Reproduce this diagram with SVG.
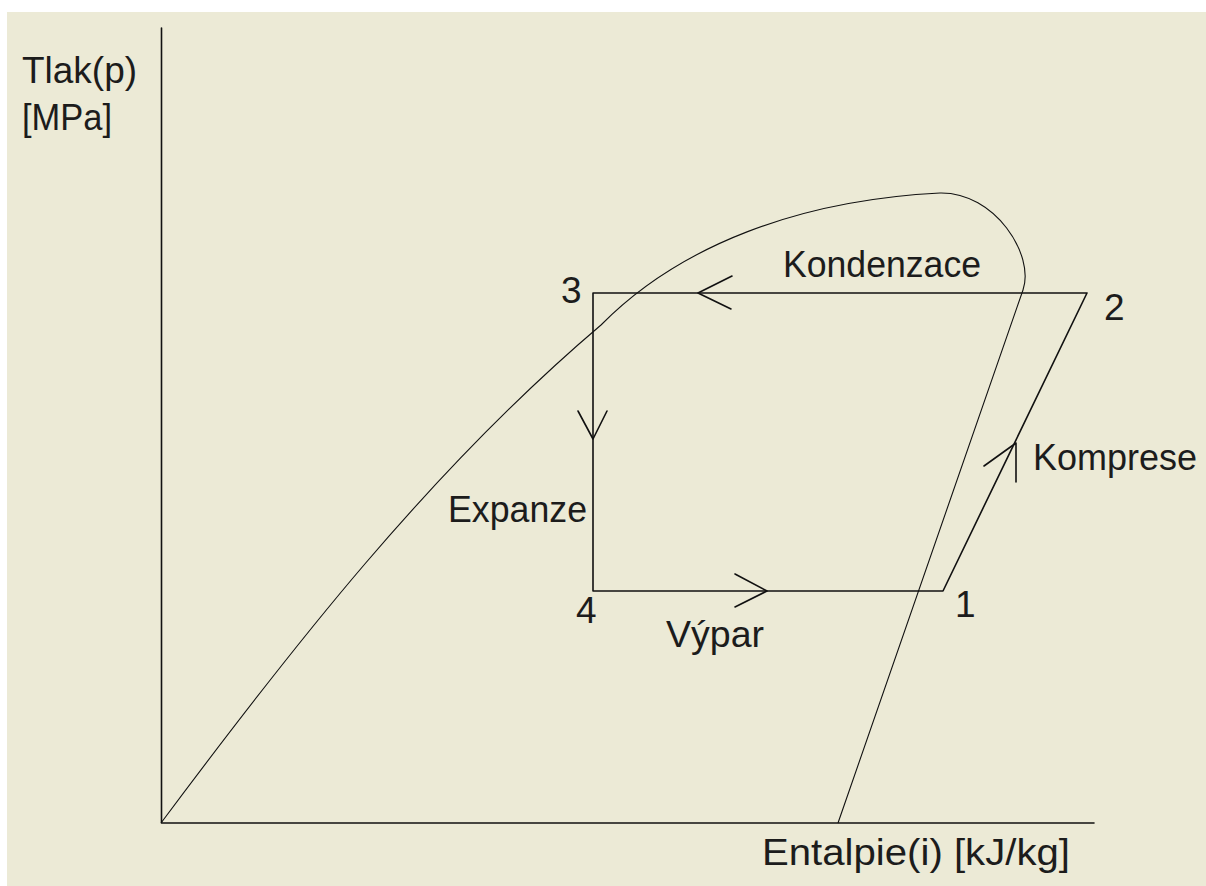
<svg xmlns="http://www.w3.org/2000/svg" width="1206" height="886" viewBox="0 0 1206 886">
  <style>
    .ln { fill: none; stroke: #111; stroke-width: 1.6; stroke-linecap: round; stroke-linejoin: round; }
    .thin { fill: none; stroke: #111; stroke-width: 1.1; }
    .t { font-family: "Liberation Sans", "DejaVu Sans", sans-serif; font-size: 37px; fill: #1c1c1c; }
  </style>
  <rect x="0" y="0" width="1206" height="886" fill="#ffffff"/>
  <rect x="7" y="12" width="1199" height="874" fill="#ECEAD6"/>

  <g id="axes">
    <path class="ln" d="M161.5,28 V823 H1094"/>
    <text class="t" x="22" y="83" textLength="115" lengthAdjust="spacingAndGlyphs">Tlak(p)</text>
    <text class="t" x="22" y="130" textLength="90" lengthAdjust="spacingAndGlyphs">[MPa]</text>
    <text class="t" x="762" y="865" textLength="308" lengthAdjust="spacingAndGlyphs">Entalpie(i) [kJ/kg]</text>
  </g>

  <g id="saturation-curve">
    <path class="thin" d="M161,823 C290,650 430,470 601,325 C680,245 800,200 940,193 C995,192 1035,255 1023,290 L838,823"/>
  </g>

  <g id="connectors">
    <path class="ln" d="M1087,293 H593 V591 H943 L1087,293"/>
    <path class="ln" d="M732,276 L698,293 L731,309"/>
    <path class="ln" d="M578,411 L593,439 L607,411"/>
    <path class="ln" d="M735,574 L767,591 L735,607"/>
    <path class="ln" d="M984,466 L1016,443 L1016,482"/>
  </g>

  <g id="node-3"><text class="t" x="561" y="303">3</text></g>
  <g id="node-2"><text class="t" x="1104" y="320">2</text></g>
  <g id="node-1"><text class="t" x="955" y="617">1</text></g>
  <g id="node-4"><text class="t" x="576" y="623">4</text></g>

  <g id="label-kondenzace"><text class="t" x="783" y="277" textLength="198" lengthAdjust="spacingAndGlyphs">Kondenzace</text></g>
  <g id="label-komprese"><text class="t" x="1033" y="470" textLength="164" lengthAdjust="spacingAndGlyphs">Komprese</text></g>
  <g id="label-expanze"><text class="t" x="448" y="522" textLength="139" lengthAdjust="spacingAndGlyphs">Expanze</text></g>
  <g id="label-vypar"><text class="t" x="666" y="647" textLength="98" lengthAdjust="spacingAndGlyphs">Výpar</text></g>
</svg>
